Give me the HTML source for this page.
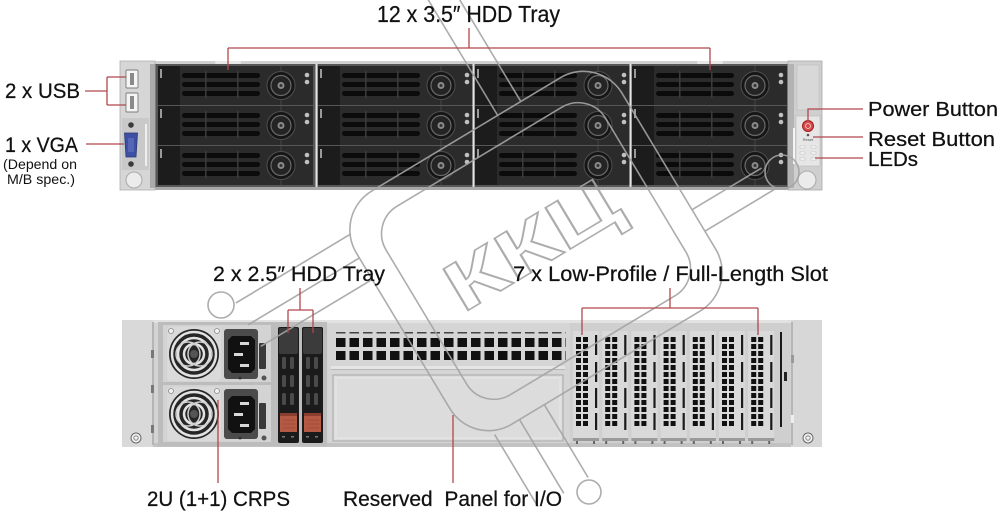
<!DOCTYPE html>
<html><head><meta charset="utf-8"><style>
html,body{margin:0;padding:0;background:#fff;width:1000px;height:512px;overflow:hidden}
svg{display:block}
text{font-family:"Liberation Sans","DejaVu Sans",sans-serif;fill:#111}
.lbl{stroke:#111;stroke-width:0.25}
</style></head><body>
<svg width="1000" height="512" viewBox="0 0 1000 512" xmlns="http://www.w3.org/2000/svg">
<defs>
 <g id="tray">
  <rect x="0" y="0" width="155" height="39" fill="#2b2b2b"/>
  <rect x="0" y="0" width="22" height="39" fill="#1c1c1c"/>
  <rect x="2" y="3" width="2" height="9" fill="#9a9a9a"/>
  <rect x="24" y="7" width="78" height="5" rx="2.5" fill="#0b0b0b"/>
  <rect x="24" y="16" width="78" height="5" rx="2.5" fill="#0b0b0b"/>
  <rect x="24" y="25" width="78" height="5" rx="2.5" fill="#0b0b0b"/>
  <rect x="47" y="5" width="1.5" height="27" fill="#3c3c3c"/>
  <rect x="79" y="5" width="1.5" height="27" fill="#3c3c3c"/>
  <line x1="123" y1="0" x2="123" y2="39" stroke="#464646" stroke-width="1"/>
  <circle cx="123" cy="19.5" r="14" fill="#161616" stroke="#4e4e4e" stroke-width="1"/>
  <circle cx="123" cy="19.5" r="10" fill="#242424" stroke="#6a6a6a" stroke-width="1.2"/>
  <circle cx="123" cy="19.5" r="3.5" fill="#8a8a8a"/>
  <circle cx="123" cy="19.5" r="1.5" fill="#333"/>
  <circle cx="149" cy="9" r="2.3" fill="#c0c0c0"/>
  <circle cx="149" cy="16" r="2.3" fill="#c0c0c0"/>
 </g>
 <g id="psu">
  <rect x="163" y="0" width="108" height="57" fill="#d3d3d3"/>
  <rect x="167" y="2" width="54" height="54" rx="4" fill="#dadada"/>
  <circle cx="194" cy="29" r="25" fill="#262626"/>
  <circle cx="194" cy="29" r="22" fill="none" stroke="#e2e2e2" stroke-width="2.5"/>
  <circle cx="194" cy="29" r="16" fill="none" stroke="#e2e2e2" stroke-width="2.5"/>
  <circle cx="194" cy="29" r="10" fill="none" stroke="#e2e2e2" stroke-width="2.5"/>
  <circle cx="188" cy="29" r="12" fill="none" stroke="#cfcfcf" stroke-width="1.5"/>
  <circle cx="200" cy="29" r="12" fill="none" stroke="#cfcfcf" stroke-width="1.5"/>
  <circle cx="194" cy="29" r="4" fill="#555"/>
  <circle cx="171" cy="6" r="2.5" fill="#f2f2f2" stroke="#888" stroke-width="0.8"/>
  <circle cx="217" cy="6" r="2.5" fill="#f2f2f2" stroke="#888" stroke-width="0.8"/>
  <rect x="224" y="4" width="34" height="50" rx="3" fill="#4b4b4b"/>
  <path d="M232,11 H251 L255,15 V44 L251,48 H232 L228,44 V15 Z" fill="#111"/>
  <rect x="240" y="17" width="9" height="3" fill="#d8d8d8"/>
  <rect x="234" y="28" width="9" height="3" fill="#d8d8d8"/>
  <rect x="240" y="39" width="9" height="3" fill="#d8d8d8"/>
  <rect x="259" y="18" width="7" height="26" rx="1" fill="#3a3a3a"/>
  <circle cx="264" cy="53" r="2.5" fill="#555"/>
  <circle cx="240" cy="53" r="1.5" fill="#333"/>
 </g>
 <g id="hdd25">
  <rect x="0" y="0" width="21" height="116" rx="2" fill="#1b1b1b"/>
  <rect x="1" y="1" width="19" height="26" rx="2" fill="#3b3b3b"/>
  <rect x="4" y="30" width="4" height="12" rx="1.5" fill="#4a4a4a"/>
  <rect x="12" y="30" width="4" height="12" rx="1.5" fill="#4a4a4a"/>
  <rect x="4" y="48" width="4" height="12" rx="1.5" fill="#4a4a4a"/>
  <rect x="12" y="48" width="4" height="12" rx="1.5" fill="#4a4a4a"/>
  <rect x="4" y="66" width="4" height="12" rx="1.5" fill="#4a4a4a"/>
  <rect x="12" y="66" width="4" height="12" rx="1.5" fill="#4a4a4a"/>
  <rect x="2" y="86" width="17" height="19" fill="#b45a44"/>
  <rect x="2" y="86" width="17" height="3" fill="#8a3e30"/>
  <line x1="4" y1="93" x2="17" y2="93" stroke="#9a4a38" stroke-width="0.8"/>
  <line x1="4" y1="97" x2="17" y2="97" stroke="#9a4a38" stroke-width="0.8"/>
  <line x1="4" y1="101" x2="17" y2="101" stroke="#9a4a38" stroke-width="0.8"/>
  <rect x="4" y="109" width="3" height="1.5" fill="#777"/>
  <rect x="13" y="109" width="3" height="1.5" fill="#777"/>
 </g>
 <g id="grid">
  <rect x="3" y="0" width="5" height="5" fill="#111"/><rect x="10" y="0" width="5" height="5" fill="#111"/>
  <rect x="3" y="7" width="5" height="5" fill="#111"/><rect x="10" y="7" width="5" height="5" fill="#111"/>
  <rect x="3" y="14" width="5" height="5" fill="#111"/><rect x="10" y="14" width="5" height="5" fill="#111"/>
  <rect x="3" y="21" width="5" height="5" fill="#111"/><rect x="10" y="21" width="5" height="5" fill="#111"/>
  <rect x="3" y="28" width="5" height="5" fill="#111"/><rect x="10" y="28" width="5" height="5" fill="#111"/>
  <rect x="3" y="35" width="5" height="5" fill="#111"/><rect x="10" y="35" width="5" height="5" fill="#111"/>
  <rect x="3" y="42" width="5" height="5" fill="#111"/><rect x="10" y="42" width="5" height="5" fill="#111"/>
  <rect x="3" y="49" width="5" height="5" fill="#111"/><rect x="10" y="49" width="5" height="5" fill="#111"/>
  <rect x="3" y="56" width="5" height="5" fill="#111"/><rect x="10" y="56" width="5" height="5" fill="#111"/>
  <rect x="3" y="63" width="5" height="5" fill="#111"/><rect x="10" y="63" width="5" height="5" fill="#111"/>
  <rect x="3" y="70" width="5" height="5" fill="#111"/><rect x="10" y="70" width="5" height="5" fill="#111"/>
  <rect x="3" y="77" width="5" height="5" fill="#111"/><rect x="10" y="77" width="5" height="5" fill="#111"/>
  <rect x="3" y="84" width="5" height="5" fill="#111"/><rect x="10" y="84" width="5" height="5" fill="#111"/>
 </g>
 <g id="slot">
  <rect x="0" y="-6" width="26" height="107" fill="#d9d9d9"/>
  <use href="#grid"/>
  <rect x="22" y="-2" width="2.2" height="20" fill="#1a1a1a"/>
  <rect x="22" y="25" width="2.2" height="20" fill="#1a1a1a"/>
  <rect x="22" y="51" width="2.2" height="20" fill="#1a1a1a"/>
  <rect x="22" y="76" width="2.2" height="17" fill="#1a1a1a"/>
  <rect x="0" y="101" width="26" height="3" fill="#9a9a9a"/>
  <rect x="3" y="104" width="2" height="3" fill="#666"/>
  <rect x="20" y="104" width="2" height="3" fill="#666"/>
 </g>
 <pattern id="vent" x="336" y="338" width="13.5" height="13" patternUnits="userSpaceOnUse">
  <rect x="0" y="0" width="9.5" height="9" fill="#111"/>
 </pattern>
 <pattern id="dash" x="336" y="332" width="13.5" height="4" patternUnits="userSpaceOnUse">
  <rect x="0" y="0" width="9.5" height="1.5" fill="#444"/>
 </pattern>
</defs>

<!-- ================= FRONT ================= -->
<rect x="120" y="61" width="702" height="129" fill="#bdbdbd"/>
<rect x="120" y="61" width="702" height="4" fill="#d0d0d0"/>
<rect x="155" y="64" width="633" height="125" fill="#575757"/>
<use href="#tray" x="158" y="66"/>
<use href="#tray" x="318" y="66"/>
<use href="#tray" x="475" y="66"/>
<use href="#tray" x="632" y="66"/>
<use href="#tray" x="158" y="106"/>
<use href="#tray" x="318" y="106"/>
<use href="#tray" x="475" y="106"/>
<use href="#tray" x="632" y="106"/>
<use href="#tray" x="158" y="146"/>
<use href="#tray" x="318" y="146"/>
<use href="#tray" x="475" y="146"/>
<use href="#tray" x="632" y="146"/>
<rect x="315.5" y="64" width="2" height="125" fill="#e4e4e4"/>
<rect x="472.5" y="64" width="2" height="125" fill="#e4e4e4"/>
<rect x="629.5" y="64" width="2" height="125" fill="#e4e4e4"/>
<rect x="215" y="61" width="26" height="3" rx="1.5" fill="#e8e8e8"/>
<rect x="697" y="61" width="26" height="3" rx="1.5" fill="#e8e8e8"/>
<rect x="120" y="187" width="702" height="3" fill="#a9a9a9"/>

<!-- left ear -->
<rect x="120" y="61" width="35" height="129" fill="#d6d6d6" stroke="#b0b0b0" stroke-width="0.8"/>
<rect x="150" y="64" width="5" height="124" fill="#ababab"/>
<rect x="126" y="70" width="12" height="18" rx="1" fill="#f5f5f5" stroke="#7a7a7a" stroke-width="0.9"/>
<rect x="130" y="73" width="4" height="12" fill="#8a8a8a"/>
<rect x="126" y="93" width="12" height="19" rx="1" fill="#f5f5f5" stroke="#7a7a7a" stroke-width="0.9"/>
<rect x="130" y="96" width="4" height="13" fill="#8a8a8a"/>
<rect x="122" y="118" width="27" height="52" fill="#c9c9c9"/>
<rect x="145" y="124" width="2" height="42" fill="#eee"/>
<circle cx="131" cy="125" r="2.8" fill="#3a3a3a"/>
<path d="M124.5,133 H137.5 L136,157 H126 Z" fill="#3e50a3" stroke="#2a3878" stroke-width="0.8"/>
<rect x="128" y="138" width="6" height="14" fill="#5566b5"/>
<circle cx="131" cy="164" r="2.8" fill="#3a3a3a"/>
<circle cx="134" cy="180" r="8" fill="#ececec" stroke="#a9a9a9" stroke-width="1"/>

<!-- right ear -->
<rect x="788" y="61" width="34" height="129" fill="#cfcfcf" stroke="#a9a9a9" stroke-width="0.8"/>
<rect x="788" y="64" width="6" height="124" fill="#b3b3b3"/>
<rect x="797" y="65" width="22" height="45" fill="#d8d8d8" stroke="#bdbdbd" stroke-width="0.6"/>
<rect x="796" y="116" width="24" height="50" fill="#e6e6e6" stroke="#b9b9b9" stroke-width="0.6"/>
<rect x="793" y="128" width="2" height="36" fill="#f4f4f4"/>
<circle cx="808" cy="126" r="5.5" fill="#d44a4a" stroke="#a02020" stroke-width="1"/>
<circle cx="808" cy="126" r="2.5" fill="none" stroke="#f6d6d6" stroke-width="0.8"/>
<circle cx="808" cy="135" r="1.3" fill="#555"/>
<text x="808" y="141" font-size="4" text-anchor="middle" style="fill:#555">Reset</text>
<rect x="800" y="146" width="5" height="2" fill="#fff" stroke="#aaa" stroke-width="0.4"/>
<rect x="811" y="146" width="5" height="2" fill="#fff" stroke="#aaa" stroke-width="0.4"/>
<rect x="800" y="152" width="5" height="2" fill="#fff" stroke="#aaa" stroke-width="0.4"/>
<rect x="811" y="152" width="5" height="2" fill="#fff" stroke="#aaa" stroke-width="0.4"/>
<rect x="800" y="158" width="5" height="2" fill="#fff" stroke="#aaa" stroke-width="0.4"/>
<rect x="811" y="158" width="5" height="2" fill="#fff" stroke="#aaa" stroke-width="0.4"/>
<circle cx="807" cy="180" r="9" fill="#ebebeb" stroke="#a9a9a9" stroke-width="1"/>

<!-- ================= REAR ================= -->
<rect x="122" y="320" width="700" height="127" rx="2" fill="#d3d3d3"/>
<rect x="122" y="320" width="700" height="3" fill="#e2e2e2"/>
<rect x="122" y="443" width="700" height="4" fill="#c2c2c2"/>
<rect x="122" y="320" width="31" height="127" fill="#d9d9d9"/>
<rect x="152" y="322" width="2" height="123" fill="#b4b4b4"/>
<rect x="151" y="350" width="3" height="8" fill="#777"/>
<rect x="151" y="385" width="3" height="8" fill="#777"/>
<rect x="151" y="425" width="3" height="8" fill="#777"/>
<circle cx="136" cy="438" r="5" fill="#f0f0f0" stroke="#6a6a6a" stroke-width="1"/>
<circle cx="136" cy="438" r="2.2" fill="none" stroke="#777" stroke-width="0.8"/>

<rect x="158" y="322" width="117" height="124" fill="#bcbcbc"/>
<use href="#psu" y="325"/>
<use href="#psu" y="385"/>

<rect x="275" y="322" width="52" height="124" fill="#bdbdbd"/>
<use href="#hdd25" x="278" y="327"/>
<use href="#hdd25" x="302" y="327"/>

<rect x="328" y="323" width="242" height="120" fill="#d5d5d5"/>
<rect x="336" y="332" width="230" height="2" fill="url(#dash)"/>
<rect x="336" y="338" width="230" height="22" fill="url(#vent)"/>
<rect x="331" y="366" width="234" height="3" fill="#e5e5e5"/>
<rect x="331" y="369" width="234" height="1" fill="#b8b8b8"/>
<rect x="333" y="375" width="230" height="66" fill="#dcdcdc" stroke="#afafaf" stroke-width="1.2"/>
<rect x="336" y="378" width="224" height="60" fill="none" stroke="#e9e9e9" stroke-width="1"/>

<rect x="570" y="323" width="220" height="120" fill="#cfcfcf"/>
<use href="#slot" x="573" y="337"/>
<use href="#slot" x="602.2" y="337"/>
<use href="#slot" x="631.4" y="337"/>
<use href="#slot" x="660.6" y="337"/>
<use href="#slot" x="689.8" y="337"/>
<use href="#slot" x="719" y="337"/>
<use href="#slot" x="748.2" y="337"/>
<rect x="780" y="332" width="2" height="95" fill="#1a1a1a"/>
<rect x="784" y="372" width="3" height="9" fill="#222"/>

<rect x="791" y="320" width="31" height="127" fill="#d7d7d7"/>
<rect x="791" y="322" width="2" height="123" fill="#b6b6b6"/>
<rect x="791" y="355" width="3" height="8" fill="#999"/>
<rect x="791" y="415" width="3" height="8" fill="#eee"/>
<circle cx="808" cy="438" r="5" fill="#f0f0f0" stroke="#6a6a6a" stroke-width="1"/>
<circle cx="808" cy="438" r="2.2" fill="none" stroke="#777" stroke-width="0.8"/>

<!-- ================= WATERMARK (each element transformed individually) ================= -->
<g fill="none" stroke="#a4a4a4" stroke-width="1.6" opacity="0.9">
 <rect transform="translate(536,251) rotate(-31)" x="-155" y="-136" width="310" height="272" rx="45"/>
 <rect transform="translate(536,251) rotate(-31)" x="-128" y="-110" width="256" height="220" rx="32"/>
 <line transform="translate(536,251) rotate(-31)" x1="37" y1="-136" x2="37" y2="-290"/>
 <line transform="translate(536,251) rotate(-31)" x1="64" y1="-136" x2="64" y2="-290"/>
 <line transform="translate(536,251) rotate(-31)" x1="-130" y1="136" x2="-130" y2="220"/>
 <line transform="translate(536,251) rotate(-31)" x1="-101" y1="136" x2="-101" y2="222"/>
 <line transform="translate(536,251) rotate(-31)" x1="-72" y1="136" x2="-72" y2="221"/>
 <circle cx="589" cy="492" r="12"/>
 <line transform="translate(536,251) rotate(-31)" x1="155" y1="45" x2="236" y2="45"/>
 <line transform="translate(536,251) rotate(-31)" x1="155" y1="70" x2="236" y2="70"/>
 <circle cx="782" cy="172" r="17"/>
 <line transform="translate(536,251) rotate(-31)" x1="-155" y1="-60" x2="-285" y2="-60"/>
 <line transform="translate(536,251) rotate(-31)" x1="-155" y1="-85" x2="-285" y2="-85"/>
 <line transform="translate(536,251) rotate(-31)" x1="-150" y1="-110" x2="-284" y2="-110"/>
 <circle cx="221" cy="305" r="13"/>
 <text transform="translate(536,251) rotate(-31)" x="0" y="16" font-size="70" font-weight="bold" text-anchor="middle" textLength="190" lengthAdjust="spacingAndGlyphs" style="fill:none;stroke:#a4a4a4;stroke-width:1.6">ККЦ</text>
</g>

<!-- ================= CONNECTOR LINES ================= -->
<g fill="none" stroke="#b0484d" stroke-width="1.3">
 <path d="M469,28 V48 M228,48 H710 M228,48 V70 M710,48 V70"/>
 <path d="M85,91 H107 M107,77 V105 M107,77 H126 M107,105 H126"/>
 <path d="M86,144 H124"/>
 <path d="M863,109 H808 V121"/>
 <path d="M813,137 H863"/>
 <path d="M815,158 H863"/>
 <path d="M300,288 V310 M288,310 H313 M288,310 V333 M313,310 V333"/>
 <path d="M670,288 V308 M582,308 H758 M582,308 V335 M758,308 V335"/>
 <path d="M218,400 V483"/>
 <path d="M453,415 V483"/>
</g>

<!-- ================= LABELS ================= -->
<text class="lbl" x="377" y="22" font-size="23" textLength="183" lengthAdjust="spacingAndGlyphs">12 x 3.5″ HDD Tray</text>
<text class="lbl" x="5" y="98" font-size="21" textLength="75" lengthAdjust="spacingAndGlyphs">2 x USB</text>
<text class="lbl" x="5" y="152" font-size="21" textLength="73" lengthAdjust="spacingAndGlyphs">1 x VGA</text>
<text x="3" y="169" font-size="13.5" textLength="74" lengthAdjust="spacingAndGlyphs">(Depend on</text>
<text x="7" y="184" font-size="13.5" textLength="68" lengthAdjust="spacingAndGlyphs">M/B spec.)</text>
<text class="lbl" x="868" y="116" font-size="20" textLength="130" lengthAdjust="spacingAndGlyphs">Power Button</text>
<text class="lbl" x="868" y="146" font-size="20" textLength="127" lengthAdjust="spacingAndGlyphs">Reset Button</text>
<text class="lbl" x="868" y="166" font-size="20" textLength="50" lengthAdjust="spacingAndGlyphs">LEDs</text>
<text class="lbl" x="213" y="281" font-size="21" textLength="172" lengthAdjust="spacingAndGlyphs">2 x 2.5″ HDD Tray</text>
<text class="lbl" x="513" y="281" font-size="21" textLength="315" lengthAdjust="spacingAndGlyphs">7 x Low-Profile / Full-Length Slot</text>
<text class="lbl" x="147" y="506" font-size="21" textLength="143" lengthAdjust="spacingAndGlyphs">2U (1+1) CRPS</text>
<text class="lbl" x="343" y="506" font-size="21" textLength="219" lengthAdjust="spacingAndGlyphs" style="white-space:pre">Reserved  Panel for I/O</text>
</svg>
</body></html>
